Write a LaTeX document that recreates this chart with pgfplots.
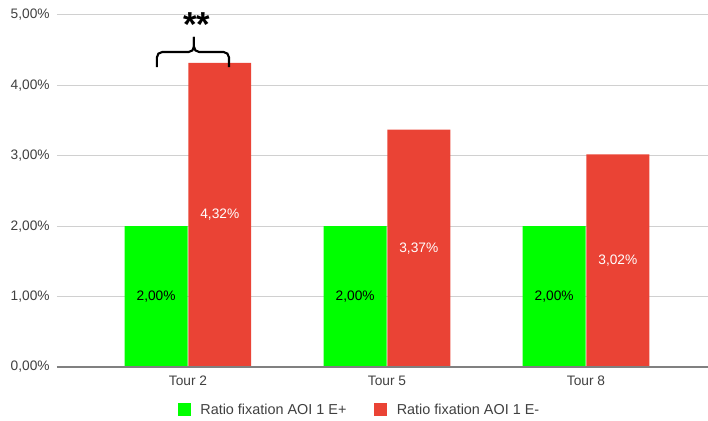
\documentclass[border=0pt]{standalone}
\usepackage{pgfplots}
\pgfplotsset{compat=1.18}
\usepackage{pgfplotstable}
\usepackage{fontspec}
\setmainfont{Liberation Sans}

\definecolor{gplus}{HTML}{00FF00}
\definecolor{gminus}{HTML}{EA4335}
\definecolor{gridgray}{HTML}{D0D0D0}
\definecolor{txt}{HTML}{404040}

% x: position of the bar, y: ratio in percent
\pgfplotstableread{
x      y
-0.16  2.00
0.84   2.00
1.84   2.00
}\ePlus
\pgfplotstableread{
x      y
0.16   4.32
1.16   3.37
2.16   3.02
}\eMinus

\newcommand{\lblfont}{\fontsize{10.3}{12}\selectfont}

\begin{document}
\begin{tikzpicture}
\useasboundingbox (0,0) rectangle (531pt,315.75pt);
\begin{axis}[
  at={(42.75pt,40.5pt)}, anchor=south west,
  scale only axis, width=488.25pt, height=264pt,
  xmin=-0.658, xmax=2.613, ymin=0, ymax=5,
  axis line style={draw=none},
  clip=false,
  ytick={0,1,2,3,4,5},
  xtick={0,1,2}, xticklabels={Tour 2, Tour 5, Tour 8},
  ymajorgrids, major grid style={gridgray, line width=0.75pt},
  major tick length=0pt,
  /pgf/number format/assume math mode=true,
  yticklabel={\pgfmathprintnumber[fixed,fixed zerofill,precision=2,use comma]{\tick}\%},
  tick label style={font=\lblfont, text=txt},
  yticklabel style={xshift=-2pt},
  xticklabel style={yshift=-3pt},
  ybar, bar width=0.316, bar shift=0pt,
  legend style={draw=none, at={(0.4654,-0.122)}, anchor=center,
    legend columns=2, font=\fontsize{10.8}{12}\selectfont, text=txt,
    /tikz/every odd column/.append style={column sep=5pt},
    /tikz/every even column/.append style={column sep=19pt}},
  legend image code/.code={\fill[#1] (0pt,-4.9pt) rectangle (9.75pt,4.9pt);},
]
\addplot[fill=gplus, draw=none] table[x=x, y=y] {\ePlus};
\addlegendentry{Ratio fixation AOI 1 E+}
\addplot[fill=gminus, draw=none] table[x=x, y=y] {\eMinus};
\addlegendentry{Ratio fixation AOI 1 E-}

% value labels, centred halfway up each bar
\addplot[draw=none, forget plot, nodes near coords, point meta=\thisrow{y},
  nodes near coords={\pgfmathprintnumber[fixed,fixed zerofill,precision=2,use comma]{\pgfplotspointmeta}\%},
  every node near coord/.append style={anchor=center, text=black, font=\lblfont}]
  table[x=x, y expr=\thisrow{y}/2] {\ePlus};
\addplot[draw=none, forget plot, nodes near coords, point meta=\thisrow{y},
  nodes near coords={\pgfmathprintnumber[fixed,fixed zerofill,precision=2,use comma]{\pgfplotspointmeta}\%},
  every node near coord/.append style={anchor=center, text=white, font=\lblfont}]
  table[x=x, y expr=\thisrow{y}/2] {\eMinus};

% baseline
\draw[gray, line width=0.9pt] (rel axis cs:0,0) -- (rel axis cs:1,0);

% significance bracket
\draw[line width=1.6pt, rounded corners=4pt]
  (axis cs:-0.156,4.261) -- (axis cs:-0.156,4.474) -- (axis cs:0.030,4.474) -- (axis cs:0.030,4.688);
\draw[line width=1.6pt, rounded corners=4pt]
  (axis cs:0.030,4.688) -- (axis cs:0.030,4.474) -- (axis cs:0.206,4.474) -- (axis cs:0.206,4.261);
\node[font=\fontsize{26}{26}\selectfont\bfseries] at (axis cs:0.045,4.86) {**};
\end{axis}
\end{tikzpicture}
\end{document}
